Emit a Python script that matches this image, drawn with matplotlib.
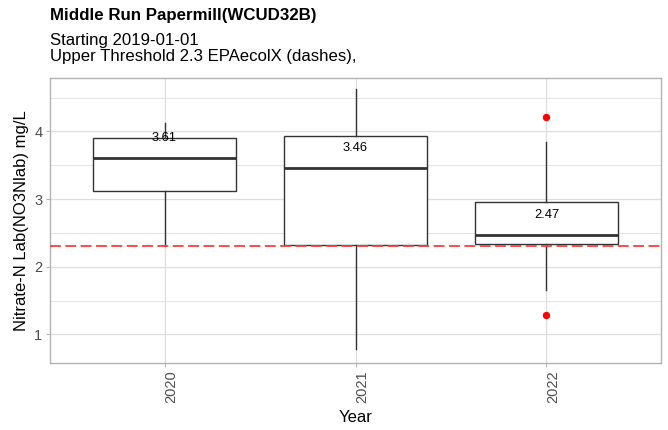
import matplotlib.pyplot as plt
from matplotlib.ticker import MultipleLocator

plt.rcParams['font.family'] = ['Liberation Sans', 'DejaVu Sans']

years = ["2020", "2021", "2022"]
whislo = [2.31, 0.78, 1.66]
q1 = [3.12, 2.32, 2.34]
med = [3.61, 3.46, 2.47]
q3 = [3.91, 3.93, 2.95]
whishi = [4.13, 4.63, 3.84]
fliers = [[], [], [1.28, 4.22]]
threshold = 2.3

fig = plt.figure(figsize=(6.68, 4.30), dpi=100)
ax = fig.add_axes([50/668, 1-363/430, (661-50)/668, (363-78)/430])

stats = []
for i in range(len(years)):
    stats.append(dict(label=years[i], whislo=whislo[i], q1=q1[i], med=med[i],
                      q3=q3[i], whishi=whishi[i], fliers=fliers[i]))

pos = list(range(1, len(years)+1))
ax.bxp(stats, positions=pos, widths=0.75, showcaps=False, patch_artist=True,
       boxprops=dict(facecolor='white', edgecolor='#333333', linewidth=1.0),
       whiskerprops=dict(color='#333333', linewidth=1.0),
       medianprops=dict(color='#333333', linewidth=2.0),
       flierprops=dict(marker='o', markerfacecolor='red', markeredgecolor='red',
                       markersize=4.3),
       zorder=3)

for p, m in zip(pos, med):
    ax.text(p, m + 0.3, f"{m:.2f}", ha='center', va='center', fontsize=9.3,
            color='black', zorder=5)

ax.axhline(threshold, color='#FF3B3B', linestyle=(0, (6, 2.5)), linewidth=1.3, zorder=4)

ax.set_xlim(0.4, 3.6)
ax.set_ylim(0.576, 4.79)
ax.set_xticks(pos)
ax.set_xticklabels(years, rotation=90, ha='left', va='top', fontsize=10.5, color='#4D4D4D')
ax.yaxis.set_major_locator(MultipleLocator(1))
ax.yaxis.set_minor_locator(MultipleLocator(0.5))
ax.tick_params(axis='y', which='minor', length=0)
ax.tick_params(axis='both', which='major', length=3, color='#B3B3B3', width=0.8,
               labelsize=10.5, labelcolor='#4D4D4D', pad=2.5)
ax.grid(True, which='major', color='#DEDEDE', linewidth=0.9, zorder=0)
ax.grid(True, which='minor', axis='y', color='#DEDEDE', linewidth=0.6, zorder=0)
ax.set_axisbelow(True)
for s in ax.spines.values():
    s.set_color('#B3B3B3')
    s.set_linewidth(1.0)

ax.set_xlabel("Year", fontsize=12, labelpad=5)
ax.set_ylabel("Nitrate-N Lab(NO3Nlab) mg/L", fontsize=12, labelpad=4)

fig.text(50/668, 1-20/430, "Middle Run Papermill(WCUD32B)", fontsize=12.2,
         fontweight='bold', ha='left', va='baseline')
fig.text(50/668, 1-45/430, "Starting 2019-01-01", fontsize=12.1, ha='left', va='baseline')
fig.text(50/668, 1-61.5/430, "Upper Threshold 2.3 EPAecolX (dashes),", fontsize=12.1,
         ha='left', va='baseline')

fig.savefig("out.png", dpi=100)
